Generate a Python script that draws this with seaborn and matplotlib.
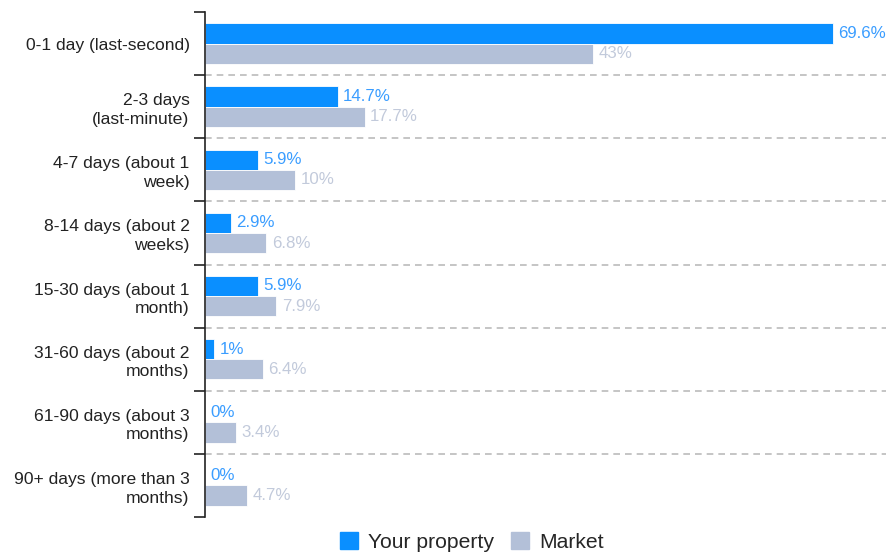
import seaborn as sns
import pandas as pd
import matplotlib.pyplot as plt
import numpy as np

categories = [
    "0-1 day (last-second)",
    "2-3 days\n(last-minute)",
    "4-7 days (about 1\nweek)",
    "8-14 days (about 2\nweeks)",
    "15-30 days (about 1\nmonth)",
    "31-60 days (about 2\nmonths)",
    "61-90 days (about 3\nmonths)",
    "90+ days (more than 3\nmonths)",
]
your_property = [69.6, 14.7, 5.9, 2.9, 5.9, 1, 0, 0]
market = [43, 17.7, 10, 6.8, 7.9, 6.4, 3.4, 4.7]
your_labels = ["69.6%", "14.7%", "5.9%", "2.9%", "5.9%", "1%", "0%", "0%"]
market_labels = ["43%", "17.7%", "10%", "6.8%", "7.9%", "6.4%", "3.4%", "4.7%"]

df = pd.DataFrame({
    "category": categories * 2,
    "value": your_property + market,
    "series": ["Your property"] * len(categories) + ["Market"] * len(categories),
})

blue = "#0a8fff"
grey = "#b3c0d8"
blue_text = "#3a9dff"
grey_text = "#c2cadb"

sns.set_theme(style="white")
plt.rcParams['font.family'] = ['Liberation Sans', 'DejaVu Sans']

fig = plt.figure(figsize=(8.86, 5.53), dpi=100)
ax = fig.add_axes([205 / 886, 1 - 517 / 553, 1 - 205 / 886, (517 - 12) / 553])

sns.barplot(data=df, y="category", x="value", hue="series", orient="h",
            palette={"Your property": blue, "Market": grey},
            width=0.64, saturation=1, ax=ax, legend=False,
            edgecolor="white", linewidth=0.6)

ax.set_xlim(0, 75.5)
ax.set_ylim(len(categories) - 0.5, -0.5)

# value labels
for i in range(len(categories)):
    ax.text(your_property[i] + 0.6, i - 0.16, your_labels[i], va="center", ha="left",
            fontsize=12.2, color=blue_text)
    ax.text(market[i] + 0.6, i + 0.16, market_labels[i], va="center", ha="left",
            fontsize=12.2, color=grey_text)

# dashed separators between groups
for b in np.arange(0.5, len(categories) - 0.5, 1):
    ax.axhline(b, color="#bbbbbb", linestyle=(0, (4, 3)), linewidth=1.2, zorder=0)

for s in ["top", "right", "bottom"]:
    ax.spines[s].set_visible(False)
ax.spines["left"].set_color("#222222")
ax.spines["left"].set_linewidth(1.2)

ax.set_xticks([])
ax.set_xlabel("")
ax.set_ylabel("")
ax.set_yticks(range(len(categories)))
ax.set_yticklabels(categories, fontsize=12.6, color="#222222", ha="right", linespacing=1.3)
ax.tick_params(axis="y", which="major", length=0, pad=11)
ax.set_yticks(np.arange(-0.5, len(categories), 1), minor=True)
ax.tick_params(axis="y", which="minor", left=True, length=8, width=1.2, color="#222222", direction="out")

handles = [plt.Rectangle((0, 0), 1, 1, color=blue), plt.Rectangle((0, 0), 1, 1, color=grey)]
fig.legend(handles, ["Your property", "Market"], loc="center", bbox_to_anchor=(472 / 886, 1 - 542 / 553),
           ncol=2, frameon=False, fontsize=15.2, handlelength=0.85, handleheight=0.85,
           handletextpad=0.5, columnspacing=0.8)

fig.savefig("out.png", dpi=100)
